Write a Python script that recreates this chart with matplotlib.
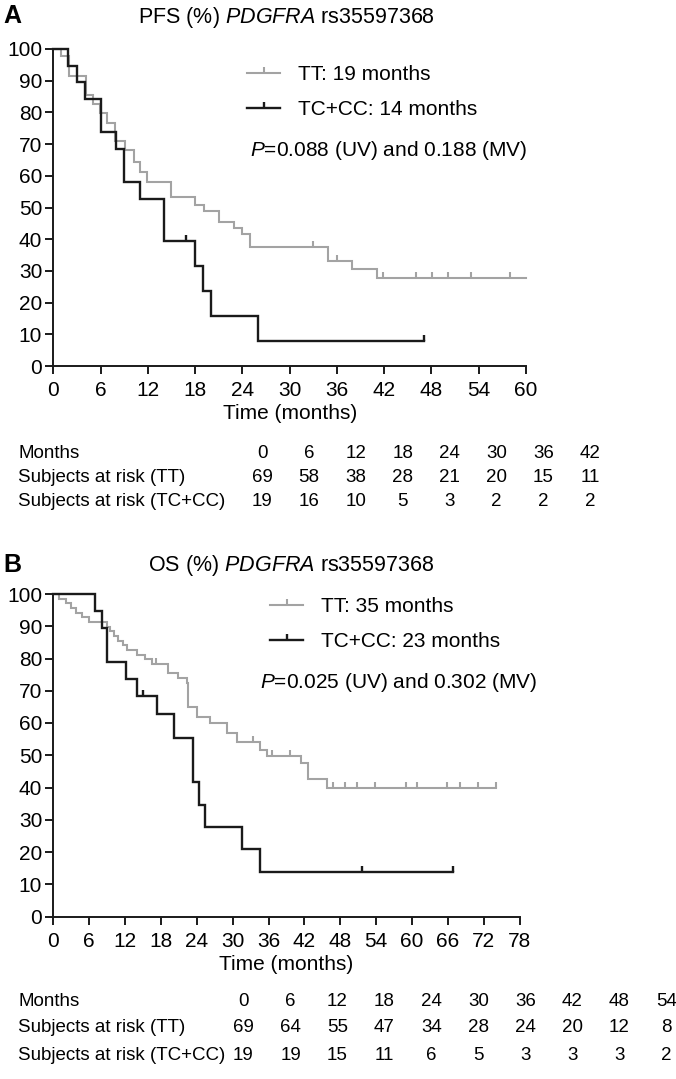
import numpy as np
import matplotlib
matplotlib.use('Agg')
import matplotlib.pyplot as plt
from matplotlib.lines import Line2D
from matplotlib.path import Path

plt.rcParams['font.family'] = ['Liberation Sans', 'DejaVu Sans']
plt.rcParams['mathtext.fontset'] = 'custom'
plt.rcParams['mathtext.rm'] = 'Liberation Sans'
plt.rcParams['mathtext.it'] = 'Liberation Sans:italic'

W, H = 676, 1079
GRAY = '#a3a3a3'
BLACK = '#1a1a1a'

# ---- Panel A: PFS ----
pfs_tt_t = [0, 1.0, 2.0, 4.2, 5.0, 5.9, 6.8, 7.8, 9.1, 10.2, 11.0, 11.9, 15.0, 18.0,
            19.1, 21.0, 22.9, 23.9, 25.0, 34.9, 37.9, 41.1, 60.0]
pfs_tt_s = [100, 97.7, 91.6, 85.5, 82.6, 79.7, 76.8, 71.0, 68.1, 64.3, 61.2, 58.2, 53.2, 50.7,
            49.0, 45.5, 43.5, 41.5, 37.4, 33.1, 30.5, 27.8, 27.8]
pfs_tt_cens = [33.0, 36.0, 41.9, 46.0, 48.1, 50.1, 53.0, 58.0]

pfs_tc_t = [0, 1.9, 3.0, 4.0, 6.0, 8.0, 9.0, 11.0, 14.0, 18.0, 19.0, 20.0, 26.0, 47.0]
pfs_tc_s = [100, 94.7, 89.5, 84.2, 73.7, 68.4, 57.9, 52.6, 39.5, 31.6, 23.7, 15.8, 7.9, 7.9]
pfs_tc_cens = [16.9, 47.0]

pfs_months = [0, 6, 12, 18, 24, 30, 36, 42]
pfs_risk_tt = [69, 58, 38, 28, 21, 20, 15, 11]
pfs_risk_tc = [19, 16, 10, 5, 3, 2, 2, 2]

# ---- Panel B: OS ----
os_tt_t = [0, 0.9, 2.2, 3.0, 3.8, 4.8, 6.0, 9.0, 9.5, 10.2, 10.9, 11.6, 12.3, 14.0, 15.3,
           16.5, 19.2, 20.9, 22.3, 22.6, 24.0, 26.2, 29.0, 30.7, 34.6, 35.7, 41.5, 42.6,
           45.7, 74.1]
os_tt_s = [100, 98.6, 97.1, 95.7, 94.2, 92.8, 91.3, 89.9, 88.4, 87.0, 85.5, 84.1, 82.6, 81.2,
           79.7, 78.3, 75.4, 73.9, 72.5, 65.1, 62.0, 59.9, 56.8, 54.2, 51.6, 49.8, 47.5, 42.6,
           39.9, 39.9]
os_tt_cens = [17.2, 33.4, 36.5, 39.6, 46.7, 48.8, 50.8, 53.8, 59.0, 60.9, 65.9, 68.0, 71.1, 74.1]

os_tc_t = [0, 7.0, 8.1, 9.0, 12.2, 14.0, 17.3, 20.2, 23.3, 24.4, 25.4, 31.5, 34.6, 66.9]
os_tc_s = [100, 94.7, 89.5, 78.9, 73.7, 68.4, 62.7, 55.5, 41.6, 34.7, 27.7, 20.8, 13.9, 13.9]
os_tc_cens = [15.0, 51.7, 66.9]

os_months = [0, 6, 12, 18, 24, 30, 36, 42, 48, 54]
os_risk_tt = [69, 64, 55, 47, 34, 28, 24, 20, 12, 8]
os_risk_tc = [19, 19, 15, 11, 6, 5, 3, 3, 3, 2]

# upward censor tick
TICK = Path([(0, 0), (0, 1)], [Path.MOVETO, Path.LINETO])
FS = 15
TABLE_FS = 13.5


def fx(x):
    return x / W


def fy(y):
    return 1 - y / H


def step_value(t, s, x):
    i = np.searchsorted(t, x, side='right') - 1
    return np.asarray(s)[i]


def km_panel(fig, rect, xmax, tt, tc, cens, letter, title, legend, ptext, legend_xy, p_xy, title_x, title_y):
    left, top, right, bottom = rect
    ax = fig.add_axes([fx(left), fy(bottom), fx(right) - fx(left), (bottom - top) / H])
    for (t, s), c, col, lw in zip([tt, tc], cens, [GRAY, BLACK], [1.5, 1.7]):
        ax.step(t, s, where='post', color=col, lw=lw, solid_joinstyle='miter', zorder=3 if col == BLACK else 2)
        ax.plot(c, step_value(t, s, c), ls='none', marker=TICK, ms=8.5, mew=lw, color=col,
                zorder=3 if col == BLACK else 2)
    ax.set_xlim(0, xmax)
    ax.set_ylim(0, 100)
    ax.set_xticks(np.arange(0, xmax + 1, 6))
    ax.set_yticks(np.arange(0, 101, 10))
    for sp in ['top', 'right']:
        ax.spines[sp].set_visible(False)
    for sp in ['left', 'bottom']:
        ax.spines[sp].set_linewidth(1.4)
        ax.spines[sp].set_color(BLACK)
    ax.tick_params(direction='out', length=6, width=1.4, labelsize=FS, color=BLACK)
    ax.tick_params(axis='x', pad=5)
    ax.tick_params(axis='y', pad=2)
    ax.set_xlabel('Time (months)', fontsize=FS, labelpad=3)
    for ln in ax.lines:
        ln.set_clip_on(False)

    handles = [Line2D([], [], color=GRAY, lw=1.5, marker=TICK, ms=8.5, mew=1.5),
               Line2D([], [], color=BLACK, lw=1.7, marker=TICK, ms=8.5, mew=1.7)]
    fig.legend(handles, legend, loc='upper left', bbox_to_anchor=(fx(legend_xy[0]), fy(legend_xy[1])),
               bbox_transform=fig.transFigure, frameon=False, fontsize=FS, handlelength=1.6,
               handletextpad=0.85, labelspacing=0.78, borderpad=0, borderaxespad=0, numpoints=1)
    fig.text(fx(p_xy[0]), fy(p_xy[1]), ptext, fontsize=FS, va='center', ha='left')
    fig.text(fx(3), fy(title_y - 1), letter, fontsize=18, fontweight='bold', va='center', ha='left')
    fig.text(fx(title_x), fy(title_y), title, fontsize=15.5, va='center', ha='left')
    return ax


def risk_table(fig, months, r_tt, r_tc, x0, dx, rows_y):
    labels = ['Months', 'Subjects at risk (TT)', 'Subjects at risk (TC+CC)']
    for lab, vals, y in zip(labels, [months, r_tt, r_tc], rows_y):
        fig.text(fx(18), fy(y), lab, fontsize=TABLE_FS, va='center', ha='left')
        for i, v in enumerate(vals):
            fig.text(fx(x0 + dx * i), fy(y), str(v), fontsize=TABLE_FS, va='center', ha='center')


fig = plt.figure(figsize=(W / 100, H / 100), dpi=100)

km_panel(fig, (53.3, 49, 526, 366), 60,
         (pfs_tt_t, pfs_tt_s), (pfs_tc_t, pfs_tc_s), [pfs_tt_cens, pfs_tc_cens],
         'A', r'PFS (%) $\mathit{PDGFRA}$ rs35597368',
         ['TT: 19 months', 'TC+CC: 14 months'], r'$P$=0.088 (UV) and 0.188 (MV)',
         (247, 65), (250, 151), 138, 17)
risk_table(fig, pfs_months, pfs_risk_tt, pfs_risk_tc, 262, 46.9, [453, 477, 501])

km_panel(fig, (53.3, 594, 519.7, 916.5), 78,
         (os_tt_t, os_tt_s), (os_tc_t, os_tc_s), [os_tt_cens, os_tc_cens],
         'B', r'OS (%) $\mathit{PDGFRA}$ rs35597368',
         ['TT: 35 months', 'TC+CC: 23 months'], r'$P$=0.025 (UV) and 0.302 (MV)',
         (270, 597), (260, 682), 148, 566)
risk_table(fig, os_months, os_risk_tt, os_risk_tc, 243.5, 47, [1002, 1028, 1055])

fig.savefig('out.png', dpi=100)
